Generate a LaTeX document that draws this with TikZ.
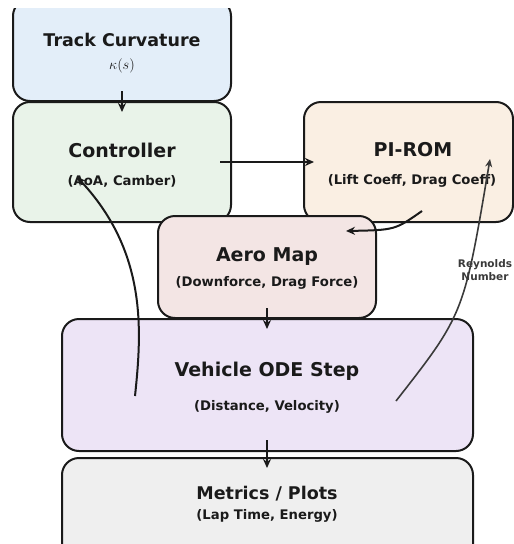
\documentclass[tikz,border=0pt]{standalone}
\usepackage{fontspec}
\setmainfont{DejaVu Sans}
\usetikzlibrary{arrows.meta}
\definecolor{edgec}{HTML}{1A1A1A}
\definecolor{fillTrack}{HTML}{E3EEF9}
\definecolor{fillCtrl}{HTML}{E9F3E9}
\definecolor{fillRom}{HTML}{FAEFE3}
\definecolor{fillAero}{HTML}{F3E5E4}
\definecolor{fillOde}{HTML}{EDE4F6}
\definecolor{fillMet}{HTML}{EFEFEF}
\definecolor{reyc}{HTML}{3A3A3A}
\tikzset{
  blockbox/.style={draw=edgec, line width=2pt, rounded corners=17pt},
  titletxt/.style={font=\bfseries\fontsize{19}{22}\selectfont, text=edgec, inner sep=0pt},
  smalltitle/.style={font=\bfseries\fontsize{17.5}{20}\selectfont, text=edgec, inner sep=0pt},
  subtxt/.style={font=\bfseries\fontsize{13.2}{16}\selectfont, text=edgec, inner sep=0pt},
  flow/.style={draw=edgec, line width=2pt, -{Stealth[length=9pt,width=8pt]}},
  thinflow/.style={draw=reyc, line width=1.6pt, -{Stealth[length=8pt,width=7pt]}},
}
\begin{document}
\begin{tikzpicture}[x=1pt, y=-1pt]
\useasboundingbox (0,0) rectangle (514,544);
\clip (0,0) rectangle (514,544);
% blocks (the top block is cut off by the drawing area)
\begin{scope}
  \clip (0,8) rectangle (514,544);
  \draw[blockbox, fill=fillTrack] (13,-1) rectangle (231,101);
\end{scope}
\draw[blockbox, fill=fillCtrl] (13,102) rectangle (231,222);
\draw[blockbox, fill=fillRom] (304,102) rectangle (513,222);
\draw[blockbox, fill=fillAero] (158,216) rectangle (376,318);
\draw[blockbox, fill=fillOde] (62,319) rectangle (473,451);
\draw[blockbox, fill=fillMet] (62,458) rectangle (473,575);
% anchors for the connectors
\coordinate (trackout) at (122,91);
\coordinate (ctrlin) at (122,112);
\coordinate (ctrlout) at (220,162);
\coordinate (romin) at (314,162);
\coordinate (romout) at (422,211);
\coordinate (aeroin) at (346,231);
\coordinate (aeroout) at (267,308);
\coordinate (odein) at (267,329);
\coordinate (odeout) at (267,440);
\coordinate (metin) at (267,468);
\coordinate (odefb) at (135,396);
\coordinate (ctrlfb) at (77,177);
\coordinate (odere) at (396,401);
\coordinate (romre) at (490,159);
% labels
\node[smalltitle] (trackT) at (122,40) {Track Curvature};
\node[inner sep=0pt, text=edgec, font=\fontsize{14}{16}\selectfont] (trackS) at (122,66) {$\kappa(s)$};
\node[titletxt] (ctrlT) at (122,150) {Controller};
\node[subtxt] (ctrlS) at (122,181) {(AoA, Camber)};
\node[titletxt] (romT) at (413,150) {PI-ROM};
\node[subtxt] (romS) at (412,181) {(Lift Coeff, Drag Coeff)};
\node[titletxt] (aeroT) at (267,257) {Aero Map};
\node[subtxt] (aeroS) at (267,283) {(Downforce, Drag Force)};
\node[titletxt] (odeT) at (267,371) {Vehicle ODE Step};
\node[subtxt] (odeS) at (267,407) {(Distance, Velocity)};
\node[smalltitle] (metT) at (267,494) {Metrics / Plots};
\node[subtxt] (metS) at (267,516) {(Lap Time, Energy)};
\node[inner sep=0pt, align=center, text=reyc, font=\bfseries\fontsize{10.5}{12.5}\selectfont] (rey) at (485,270) {Reynolds\\Number};
% connectors
\draw[flow] (trackout) -- (ctrlin);
\draw[flow] (ctrlout) -- (romin);
\draw[flow] (romout) .. controls (395,230) .. (aeroin);
\draw[flow] (aeroout) -- (odein);
\draw[flow] (odeout) -- (metin);
\draw[flow] (odefb) .. controls (142,330) and (147,252) .. (ctrlfb);
\draw[thinflow] (odere) .. controls (464,314) .. (romre);
\end{tikzpicture}
\end{document}
